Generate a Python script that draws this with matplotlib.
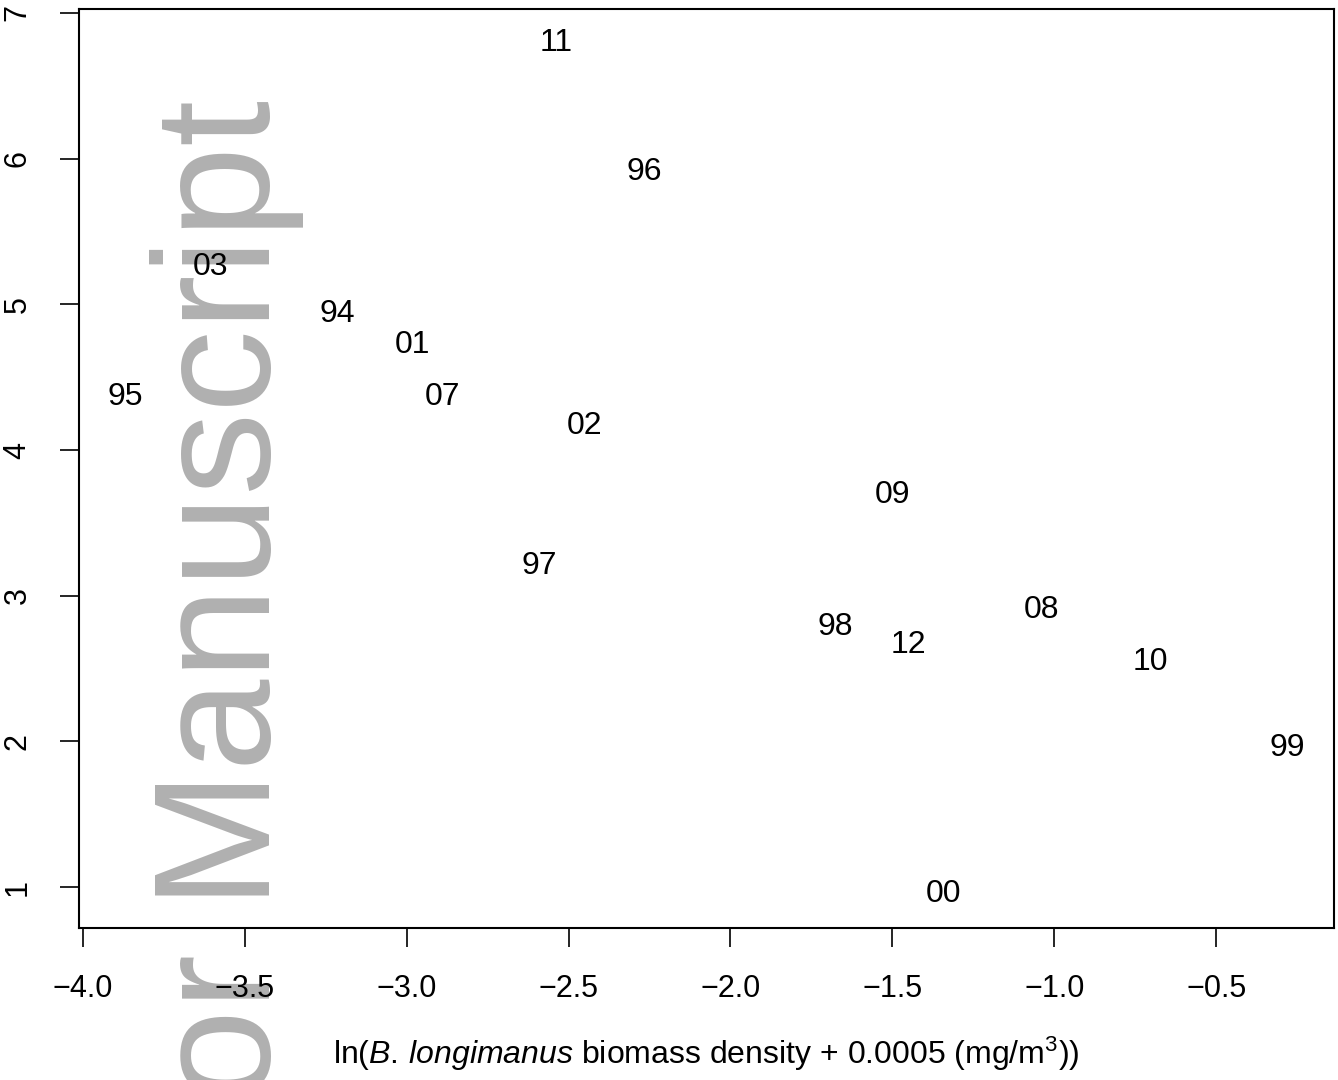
import matplotlib
matplotlib.use("Agg")
import matplotlib.pyplot as plt

# year labels and their positions
years = ["11", "96", "03", "94", "01", "95", "07", "02", "09", "97",
         "08", "98", "12", "10", "99", "00"]
log_biomass = [-2.539, -2.267, -3.605, -3.215, -2.981, -3.870, -2.888, -2.452,
               -1.501, -2.591, -1.040, -1.677, -1.451, -0.704, -0.280, -1.343]
y_vals = [6.794, 5.908, 5.256, 4.934, 4.721, 4.364, 4.364, 4.165,
          3.691, 3.204, 2.902, 2.785, 2.661, 2.545, 1.954, 0.952]

x_ticks = [-4.0, -3.5, -3.0, -2.5, -2.0, -1.5, -1.0, -0.5]
y_ticks = [1, 2, 3, 4, 5, 6, 7]

plt.rcParams['font.family'] = ['Liberation Sans', 'DejaVu Sans']
plt.rcParams['mathtext.fontset'] = 'custom'
plt.rcParams['mathtext.rm'] = 'Liberation Sans'
plt.rcParams['mathtext.it'] = 'Liberation Sans:italic'

fig = plt.figure(figsize=(13.38, 10.8), dpi=100)
ax = fig.add_axes([0.0587, 0.1407, 0.9382, 0.851])

# watermark behind the axes
fig.text(270 / 1338, 1 - 100 / 1080, "Author Manuscript", rotation=90,
         rotation_mode='anchor', ha='right', va='baseline',
         fontsize=119, color='#b0b0b0', zorder=-1)
ax.set_facecolor('none')

for lab, xv, yv in zip(years, log_biomass, y_vals):
    ax.text(xv, yv, lab, ha='center', va='center', fontsize=23, color='black')

# R style 4% padding
xr = max(log_biomass) - min(log_biomass)
yr = max(y_vals) - min(y_vals)
ax.set_xlim(min(log_biomass) - 0.04 * xr, max(log_biomass) + 0.04 * xr)
ax.set_ylim(min(y_vals) - 0.04 * yr, max(y_vals) + 0.04 * yr)

ax.set_xticks(x_ticks)
ax.set_xticklabels([f"{t:.1f}".replace("-", "\u2212") for t in x_ticks])
ax.set_yticks(y_ticks)
ax.set_yticklabels([str(t) for t in y_ticks], rotation=90, va='center')
ax.tick_params(axis='both', length=14, width=1.2, labelsize=22, pad=19)

for s in ax.spines.values():
    s.set_linewidth(1.5)

ax.set_xlabel(r"ln($\mathit{B.\,longimanus}$ biomass density + 0.0005 (mg/m$^3$))",
              fontsize=23, labelpad=22)

fig.savefig("out.png", dpi=100)
